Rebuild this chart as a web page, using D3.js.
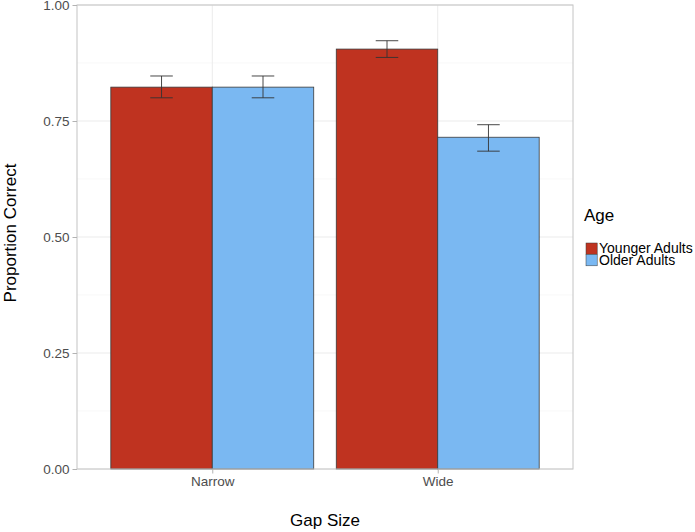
<!DOCTYPE html>
<html>
<head>
<meta charset="utf-8">
<script src="https://cdnjs.cloudflare.com/ajax/libs/d3/7.8.5/d3.min.js"></script>
<style>
  body { margin: 0; background: #fff; }
  svg { display: block; font-family: "Liberation Sans", Arial, Helvetica, sans-serif; }
</style>
</head>
<body>
<svg id="chart" width="695" height="532"></svg>
<script>
const categories = ["Narrow", "Wide"];
const groups = ["Younger Adults", "Older Adults"];
const means = {
  "Younger Adults": [0.823, 0.905],
  "Older Adults":   [0.823, 0.715]
};
const errLow = {
  "Younger Adults": [0.800, 0.887],
  "Older Adults":   [0.800, 0.685]
};
const errHigh = {
  "Younger Adults": [0.847, 0.923],
  "Older Adults":   [0.847, 0.742]
};
const yTicks = [0, 0.25, 0.5, 0.75, 1.0];
const yMinor = [0.125, 0.375, 0.625, 0.875];
const colors = ["#BF3320", "#7AB8F2"];

const svg = d3.select("#chart");
const L = 77, R = 573, T = 5, B = 469;

// discrete positions with ggplot-like expansion
const x = d3.scaleLinear().domain([0.4, 2.6]).range([L, R]);
const y = d3.scaleLinear().domain([0, 1]).range([B, T]);
const barW = x(1.45) - x(1);
const errW = x(1.1) - x(1);

const g = svg.append("g");

// minor grid
g.selectAll(".minor").data(yMinor).enter().append("line")
  .attr("x1", L).attr("x2", R)
  .attr("y1", d => y(d)).attr("y2", d => y(d))
  .attr("stroke", "#f4f4f4").attr("stroke-width", 0.6);
// major grid
g.selectAll(".major").data(yTicks).enter().append("line")
  .attr("x1", L).attr("x2", R)
  .attr("y1", d => y(d)).attr("y2", d => y(d))
  .attr("stroke", "#ebebeb").attr("stroke-width", 1);
g.selectAll(".vmajor").data(categories).enter().append("line")
  .attr("x1", (d, i) => x(i + 1)).attr("x2", (d, i) => x(i + 1))
  .attr("y1", T).attr("y2", B)
  .attr("stroke", "#ebebeb").attr("stroke-width", 1);

// bars
groups.forEach((grp, gi) => {
  categories.forEach((cat, ci) => {
    const cx = x(ci + 1) + (gi === 0 ? -barW / 2 : barW / 2);
    g.append("rect")
      .attr("x", cx - barW / 2)
      .attr("y", y(means[grp][ci]))
      .attr("width", barW)
      .attr("height", y(0) - y(means[grp][ci]))
      .attr("fill", colors[gi])
      .attr("stroke", "#3a3a3a")
      .attr("stroke-width", 0.8);
  });
});

// error bars
groups.forEach((grp, gi) => {
  categories.forEach((cat, ci) => {
    const cx = x(ci + 1) + (gi === 0 ? -barW / 2 : barW / 2);
    const lo = y(errLow[grp][ci]), hi = y(errHigh[grp][ci]);
    const eg = g.append("g").attr("stroke", "#333").attr("stroke-width", 0.9).attr("fill", "none");
    eg.append("line").attr("x1", cx).attr("x2", cx).attr("y1", lo).attr("y2", hi);
    eg.append("line").attr("x1", cx - errW / 2).attr("x2", cx + errW / 2).attr("y1", lo).attr("y2", lo);
    eg.append("line").attr("x1", cx - errW / 2).attr("x2", cx + errW / 2).attr("y1", hi).attr("y2", hi);
  });
});

// panel border
svg.append("rect").attr("x", L).attr("y", T).attr("width", R - L).attr("height", B - T)
  .attr("fill", "none").attr("stroke", "#c4c4c4").attr("stroke-width", 1);

// y axis
const yAxis = d3.axisLeft(y).tickValues(yTicks).tickFormat(d3.format(".2f")).tickSize(4.5).tickPadding(3);
const ya = svg.append("g").attr("transform", `translate(${L},0)`).call(yAxis);
ya.select(".domain").remove();
ya.selectAll(".tick line").attr("stroke", "#b3b3b3");
ya.selectAll(".tick text").attr("fill", "#4d4d4d").style("font-size", "13.5px");

// x axis
const xAxis = d3.axisBottom(x).tickValues([1, 2]).tickFormat((d) => categories[d - 1]).tickSize(4.5).tickPadding(3);
const xa = svg.append("g").attr("transform", `translate(0,${B})`).call(xAxis);
xa.select(".domain").remove();
xa.selectAll(".tick line").attr("stroke", "#b3b3b3");
xa.selectAll(".tick text").attr("fill", "#4d4d4d").style("font-size", "13.5px");

// axis titles
svg.append("text").attr("x", (L + R) / 2).attr("y", 526).attr("text-anchor", "middle")
  .style("font-size", "17px").attr("fill", "#000").text("Gap Size");
svg.append("text").attr("transform", `translate(16,233) rotate(-90)`)
  .attr("text-anchor", "middle").style("font-size", "17px").attr("fill", "#000").text("Proportion Correct");

// legend
const lg = svg.append("g");
lg.append("text").attr("x", 584).attr("y", 221).style("font-size", "17px").attr("fill", "#000").text("Age");
groups.forEach((grp, gi) => {
  lg.append("rect").attr("x", 586).attr("y", 243 + gi * 11.6).attr("width", 11.2).attr("height", 11.2)
    .attr("fill", colors[gi]).attr("stroke", "#3a3a3a").attr("stroke-width", 0.5);
  lg.append("text").attr("x", 599).attr("y", 253 + gi * 11.6).style("font-size", "14px")
    .attr("fill", "#000").text(grp);
});
</script>
</body>
</html>
